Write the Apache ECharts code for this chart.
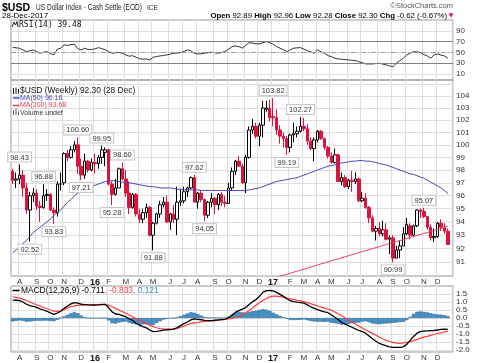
<!DOCTYPE html>
<html>
<head>
<meta charset="utf-8">
<script src="https://cdn.jsdelivr.net/npm/echarts@6.0.0/dist/echarts.min.js"></script>
<style>
html,body{margin:0;padding:0;background:#ffffff;}
#chart{width:480px;height:363px;}
</style>
</head>
<body>
<div id="chart"></div>
<script>
// ---- weekly categories (week start dates) ----
const weeks = [
'2015-07-20','2015-07-27','2015-08-03','2015-08-10','2015-08-17','2015-08-24','2015-08-31','2015-09-07','2015-09-14','2015-09-21',
'2015-09-28','2015-10-05','2015-10-12','2015-10-19','2015-10-26','2015-11-02','2015-11-09','2015-11-16','2015-11-23','2015-11-30',
'2015-12-07','2015-12-14','2015-12-21','2015-12-28','2016-01-04','2016-01-11','2016-01-18','2016-01-25','2016-02-01','2016-02-08',
'2016-02-15','2016-02-22','2016-02-29','2016-03-07','2016-03-14','2016-03-21','2016-03-28','2016-04-04','2016-04-11','2016-04-18',
'2016-04-25','2016-05-02','2016-05-09','2016-05-16','2016-05-23','2016-05-30','2016-06-06','2016-06-13','2016-06-20','2016-06-27',
'2016-07-04','2016-07-11','2016-07-18','2016-07-25','2016-08-01','2016-08-08','2016-08-15','2016-08-22','2016-08-29','2016-09-05',
'2016-09-12','2016-09-19','2016-09-26','2016-10-03','2016-10-10','2016-10-17','2016-10-24','2016-10-31','2016-11-07','2016-11-14',
'2016-11-21','2016-11-28','2016-12-05','2016-12-12','2016-12-19','2016-12-26','2017-01-02','2017-01-09','2017-01-16','2017-01-23',
'2017-01-30','2017-02-06','2017-02-13','2017-02-20','2017-02-27','2017-03-06','2017-03-13','2017-03-20','2017-03-27','2017-04-03',
'2017-04-10','2017-04-17','2017-04-24','2017-05-01','2017-05-08','2017-05-15','2017-05-22','2017-05-29','2017-06-05','2017-06-12',
'2017-06-19','2017-06-26','2017-07-03','2017-07-10','2017-07-17','2017-07-24','2017-07-31','2017-08-07','2017-08-14','2017-08-21',
'2017-08-28','2017-09-04','2017-09-11','2017-09-18','2017-09-25','2017-10-02','2017-10-09','2017-10-16','2017-10-23','2017-10-30',
'2017-11-06','2017-11-13','2017-11-20','2017-11-27','2017-12-04','2017-12-11','2017-12-18','2017-12-25'];

// ---- weekly OHLC ----
const open = [97.9,97.2,97.3,97.6,96.6,94.9,96.0,96.2,95.2,95.1, 96.0,96.1,94.9,94.7,96.9,97.0,99.3,99.0,99.6,100.0,
98.3,97.6,98.7,98.0,98.6,98.5,99.0,99.4,99.6,96.9, 96.1,96.6,98.1,97.3,96.2,95.1,96.1,94.6,94.2,94.7,
95.1,93.0,93.9,94.6,95.3,95.5,94.0,94.6,94.2,95.5, 95.6,96.3,96.6,97.4,95.5,96.2,95.7,94.5,95.5,95.8,
95.3,96.1,95.5,95.4,96.6,97.9,98.7,98.3,97.0,99.0, 101.2,101.5,100.7,101.6,102.9,103.0,102.3,102.2,101.2,100.7,
100.5,99.8,100.8,100.9,101.1,101.5,101.3,100.3,99.7,100.4, 101.1,100.5,99.8,99.1,98.6,99.2,97.1,97.4,96.7,97.2,
97.1,97.3,95.6,95.8,95.1,94.3,93.3,93.5,93.1,93.4, 92.7,92.8,91.3,91.9,92.2,93.1,93.7,93.0,93.7,94.9,
94.8,94.4,93.6,92.8,92.9,93.9,93.6,93.3];
const close = [97.2,97.3,97.6,96.6,94.9,96.0,96.2,95.2,95.1,96.0, 96.1,94.9,94.7,96.9,96.9,99.3,99.0,99.6,100.0,98.3,
97.6,98.7,98.0,98.6,98.5,99.0,99.6,99.6,96.9,96.1, 96.6,98.1,97.3,96.2,95.1,96.1,94.6,94.2,94.7,95.1,
93.0,93.9,94.6,95.3,95.5,94.0,94.6,94.2,95.5,95.6, 96.3,96.6,97.4,95.5,96.2,95.7,94.5,95.5,95.8,95.3,
96.1,95.5,95.4,96.6,97.9,98.7,98.3,97.0,99.0,101.2, 101.5,100.7,101.6,103.0,103.0,102.2,102.2,101.2,100.7,100.5,
99.8,100.8,100.9,101.1,101.5,101.3,100.3,99.7,100.4,101.1, 100.5,99.8,99.1,98.6,99.2,97.1,97.4,96.7,97.2,97.1,
97.3,95.6,95.8,95.1,94.3,93.3,93.5,93.1,93.4,92.7, 92.8,91.3,91.9,92.2,93.1,93.8,93.0,93.7,94.9,94.8,
94.4,93.6,92.8,92.9,93.9,93.6,93.3,92.30];
const low = [96.9,96.6,96.9,95.9,94.6,92.52,95.5,94.9,94.0,95.0, 95.6,94.8,93.83,94.4,96.4,96.8,98.7,98.9,99.4,97.7,
97.21,97.3,97.8,97.9,97.7,98.1,98.5,98.3,96.8,95.28, 96.0,96.6,97.2,95.9,94.6,95.0,94.4,93.9,93.9,94.3,
92.9,91.88,93.8,94.3,95.1,93.9,93.4,93.9,93.0,95.2, 95.4,95.9,96.5,95.5,95.0,95.5,94.05,94.3,95.1,94.6,
94.9,95.2,95.1,95.4,96.4,97.6,98.3,96.9,96.2,98.9, 100.9,100.5,99.9,100.6,102.7,101.9,101.5,100.8,100.1,99.8,
99.19,99.4,100.2,100.6,101.0,101.1,100.0,99.6,98.7,100.2, 100.4,99.6,98.9,98.5,98.5,97.1,96.8,96.6,96.5,96.3,
96.9,95.5,95.5,95.0,93.9,93.2,92.6,92.9,92.9,92.6, 91.6,90.99,91.3,91.3,92.2,93.0,92.7,92.9,93.6,94.3,
94.3,93.4,92.6,92.5,92.8,93.3,93.1,92.28];
const high = [98.1,97.8,98.43,98.0,97.0,96.3,96.6,96.5,95.6,96.88, 96.5,96.2,95.1,97.1,97.8,99.4,99.6,99.9,100.3,100.60,
98.9,99.3,98.8,98.9,99.3,99.2,99.95,99.8,99.7,97.1, 97.3,98.2,98.60,98.0,97.1,96.2,96.2,95.0,95.0,95.4,
95.2,94.0,94.7,95.6,95.9,96.0,94.7,95.3,96.7,96.5, 96.7,96.7,97.5,97.62,96.3,96.4,95.8,95.6,96.2,95.9,
96.2,96.3,96.0,97.0,98.2,98.8,99.1,98.5,99.2,101.5, 102.1,101.8,101.8,103.6,103.6,103.7,103.82,102.9,101.6,101.0,
100.7,100.9,101.8,101.5,102.27,102.2,101.7,100.6,100.6,101.2, 101.2,100.6,99.9,99.4,99.7,99.3,97.8,97.6,97.3,97.9,
97.8,97.4,96.3,96.2,95.2,94.5,93.7,94.0,94.1,93.9, 93.0,93.0,92.2,92.6,93.6,94.3,93.9,93.8,94.95,95.0,
95.07,94.4,93.8,93.5,94.0,94.2,93.9,93.5];

// ---- moving averages ----
const ma50 = [91.7,91.9,92.1,92.4,92.6,92.9,93.2,93.4,93.6,93.8, 94.0,94.2,94.5,94.7,94.9,95.2,95.5,95.7,96.0,96.2,
96.3,96.5,96.6,96.7,96.8,96.9,97.0,97.1,97.15,97.15, 97.15,97.1,97.05,97.0,97.0,96.95,96.9,96.85,96.8,96.75,
96.7,96.7,96.65,96.6,96.6,96.6,96.6,96.55,96.5,96.5, 96.45,96.45,96.45,96.45,96.45,96.4,96.4,96.4,96.4,96.4,
96.4,96.4,96.4,96.4,96.4,96.4,96.4,96.4,96.4,96.45, 96.5,96.55,96.6,96.7,96.8,96.9,97.0,97.1,97.15,97.2,
97.25,97.3,97.35,97.4,97.5,97.6,97.7,97.8,97.9,98.0, 98.1,98.2,98.3,98.35,98.4,98.5,98.55,98.6,98.65,98.7,
98.7,98.75,98.75,98.7,98.7,98.65,98.6,98.5,98.45,98.4, 98.3,98.2,98.1,98.0,97.9,97.8,97.7,97.65,97.55,97.45,
97.35,97.2,97.05,96.9,96.75,96.6,96.4,96.16];
const ma200 = [84.10,84.18,84.25,84.33,84.40,84.48,84.55,84.63,84.70,84.78, 84.85,84.93,85.00,85.08,85.16,85.23,85.31,85.39,85.46,85.54,
85.62,85.69,85.77,85.85,85.92,86.00,86.08,86.15,86.23,86.30, 86.38,86.45,86.53,86.60,86.68,86.75,86.83,86.90,86.98,87.05,
87.13,87.20,87.28,87.35,87.43,87.50,87.58,87.65,87.73,87.80, 87.88,87.95,88.03,88.10,88.18,88.25,88.33,88.40,88.48,88.55,
88.63,88.70,88.78,88.85,88.93,89.00,89.08,89.15,89.23,89.30, 89.38,89.45,89.53,89.60,89.68,89.75,89.83,89.90,89.98,90.05,
90.13,90.20,90.28,90.35,90.43,90.50,90.58,90.65,90.73,90.80, 90.88,90.95,91.03,91.10,91.18,91.25,91.33,91.40,91.48,91.55,
91.63,91.70,91.78,91.85,91.93,92.00,92.08,92.15,92.23,92.30, 92.38,92.45,92.53,92.60,92.68,92.75,92.83,92.90,92.98,93.05,
93.13,93.20,93.28,93.35,93.43,93.50,93.58,93.68];

// ---- RSI(14) ----
const rsi = [59.6,58.5,57.8,54.6,51.5,53,54.6,51.5,48.5,50.5, 51.5,48,45.4,55.9,58,63.9,63,64.5,65.2,57,
54.6,57.8,55.5,55.5,56.5,58.9,57,55,51.5,48.5, 49.6,50,48.5,45.4,43,44,41.1,38.5,37.4,38,
36.1,41.1,42.5,43.5,44.5,45.4,47,48.5,49,49.6, 52,54.6,53,48.5,47.2,47.5,48.5,49.5,50.4,49.5,
48.5,50,51.5,56,60.8,62,60.8,58,63,68.2, 67,66,65.7,68,70,68,65.2,61,57.8,55,
51.5,55,57.8,58.5,58.9,56,53.4,51,48.5,54.6, 51,48.5,44,42.3,39.3,38,37.4,36.8,36.1,35.5,
35,33,31,28.7,28.7,28.7,29.5,30,28.5,26.9, 25,23.7,30,35,39.3,45.4,48.5,51.5,51,50,
46,43.5,39.3,45.4,47.2,45,43.5,39.48];

// ---- MACD(12,26,9) ----
const macd = [1.12,1.11,1.09,1.0,0.86,0.78,0.72,0.66,0.57,0.5, 0.42,0.32,0.23,0.3,0.42,0.6,0.75,0.88,0.96,0.93,
0.86,0.84,0.82,0.81,0.81,0.82,0.84,0.85,0.65,0.38, 0.25,0.22,0.15,0.08,-0.05,-0.15,-0.33,-0.45,-0.54,-0.62,
-0.75,-0.85,-0.83,-0.8,-0.76,-0.74,-0.72,-0.69,-0.6,-0.48, -0.35,-0.25,-0.12,-0.06,-0.08,-0.11,-0.15,-0.17,-0.16,-0.14,
-0.12,-0.1,-0.08,0.02,0.18,0.35,0.46,0.55,0.65,0.85, 1.02,1.15,1.35,1.6,1.71,1.72,1.7,1.6,1.48,1.35,
1.2,1.08,1.03,0.99,0.96,0.93,0.82,0.7,0.6,0.52, 0.45,0.38,0.33,0.2,0.05,-0.1,-0.28,-0.38,-0.48,-0.58,
-0.68,-0.78,-0.85,-0.95,-1.12,-1.3,-1.45,-1.58,-1.66,-1.74, -1.8,-1.83,-1.84,-1.84,-1.8,-1.65,-1.4,-1.15,-0.95,-0.85,
-0.82,-0.8,-0.79,-0.78,-0.75,-0.71,-0.7,-0.711];
const signal = [1.33,1.29,1.24,1.18,1.09,1.0,0.91,0.83,0.75,0.66, 0.58,0.5,0.43,0.41,0.45,0.53,0.63,0.72,0.76,0.79,
0.81,0.82,0.83,0.83,0.84,0.84,0.85,0.85,0.8,0.7, 0.6,0.5,0.4,0.3,0.19,0.08,-0.03,-0.14,-0.25,-0.36,
-0.45,-0.54,-0.61,-0.66,-0.68,-0.69,-0.69,-0.68,-0.65,-0.58, -0.5,-0.42,-0.35,-0.31,-0.28,-0.24,-0.21,-0.19,-0.18,-0.17,
-0.14,-0.11,-0.08,-0.05,-0.02,0.03,0.08,0.2,0.33,0.47, 0.63,0.8,0.95,1.1,1.22,1.32,1.37,1.37,1.34,1.3,
1.25,1.2,1.16,1.11,1.07,1.02,0.96,0.89,0.82,0.75, 0.68,0.62,0.56,0.49,0.38,0.26,0.14,0.02,-0.12,-0.25,
-0.38,-0.5,-0.62,-0.75,-0.85,-0.96,-1.08,-1.19,-1.3,-1.4, -1.47,-1.52,-1.56,-1.58,-1.56,-1.52,-1.48,-1.41,-1.34,-1.26,
-1.2,-1.15,-1.09,-1.03,-0.97,-0.92,-0.87,-0.833];
const hist = [-0.21,-0.18,-0.15,-0.18,-0.23,-0.22,-0.19,-0.17,-0.18,-0.16, -0.16,-0.18,-0.2,-0.11,0.0,0.1,0.2,0.3,0.36,0.3,
0.15,0.05,-0.01,-0.02,-0.03,-0.02,-0.01,0.0,-0.15,-0.32, -0.35,-0.28,-0.25,-0.22,-0.3,-0.36,-0.4,-0.42,-0.4,-0.38,
-0.42,-0.44,-0.32,-0.2,-0.1,-0.05,-0.03,-0.01,0.05,0.12, 0.2,0.28,0.36,0.33,0.25,0.15,0.06,0.02,0.02,0.03,
0.02,0.01,0.0,0.07,0.2,0.32,0.38,0.35,0.32,0.38, 0.42,0.45,0.5,0.55,0.52,0.45,0.33,0.23,0.14,0.05,
-0.05,-0.12,-0.13,-0.12,-0.11,-0.09,-0.14,-0.19,-0.22,-0.23, -0.23,-0.24,-0.23,-0.29,-0.33,-0.36,-0.42,-0.4,-0.36,-0.33,
-0.3,-0.28,-0.23,-0.2,-0.27,-0.34,-0.37,-0.39,-0.36,-0.34, -0.33,-0.31,-0.28,-0.26,-0.24,-0.13,0.08,0.26,0.39,0.41,
0.38,0.35,0.3,0.25,0.22,0.21,0.17,0.121];

// ---- annotated peaks / troughs (week indexes) ----
const peakIdx = [2,9,19,26,32,53,76,84,120];
const troughIdx = [5,12,20,29,41,56,80,111];

// ---- tick labels ----
const priceTicks = [91,92,93,94,95,96,97,98,99,100,101,102,103,104];
const priceGrid = [91,92,93,94,95,96,97,98,99,100,101,102,103,104,105];
const rsiTicks = [10,30,50,70,90];
const macdTicks = [-2,-1.5,-1,-0.5,0,0.5,1,1.5];
const monthLetters = ['J','F','M','A','M','J','J','A','S','O','N','D'];

// ---- header quote (daily) ----
const quote = {open:'92.89', high:'92.96', low:'92.28', close:'92.30', chg:'-0.62', pct:'-0.67%'};

const N = weeks.length;
[open,close,low,high,ma50,ma200,rsi,macd,signal,hist].forEach((a,k)=>{ if(a.length!==N) throw new Error('len mismatch '+k+' '+a.length); });

const cats = weeks.concat(['']);
function monthStart(i){ if(i<=0||i>=N) return false; return weeks[i].slice(5,7)!==weeks[i-1].slice(5,7); }
function monthLabel(v){ if(!v) return ''; const m=+v.slice(5,7); return m===1 ? '{b|'+v.slice(2,4)+'}' : monthLetters[m-1]; }

const RED = '#dc143c';
const BLUE = '#4848b4';
const PINK = '#e8405a';
const FONT = 'Liberation Sans';
const GRID = '#dedede';
const gridBase = {left:11, right:27, show:true, borderColor:'#999999', borderWidth:1, backgroundColor:'transparent', containLabel:false, outerBoundsMode:'none'};
const grids = [
  Object.assign({top:20, height:60}, gridBase),
  Object.assign({top:80, height:196}, gridBase),
  Object.assign({top:286, height:66}, gridBase)
];

function xAx(gi, showLabels){
  return {type:'category', gridIndex:gi, data:cats, boundaryGap:true,
    axisLine:{show:false}, axisTick:{show:false},
    axisLabel:{show:showLabels, interval:(i)=>monthStart(i), formatter:monthLabel, fontSize:8, fontFamily:FONT, color:'#333', margin:2,
      rich:{b:{fontSize:9, fontWeight:'bold', fontFamily:FONT, color:'#111'}}},
    splitLine:{show:true, interval:(i)=>monthStart(i), lineStyle:{color:GRID, width:1}}
  };
}
function yAx(gi, type, min, max, ticks, fmt, gridTicks){
  const a = {type:type, gridIndex:gi, position:'right', min:min, max:max, scale:true,
    axisLine:{show:false}, axisTick:{show:false, customValues:gridTicks||ticks},
    axisLabel:{customValues:ticks, fontSize:8, fontFamily:FONT, color:'#333', margin:3, formatter:fmt},
    splitLine:{show:true, lineStyle:{color:GRID, width:1}}};
  if(type==='log') a.logBase = 10;
  return a;
}

function endBox(val, txt, col, off){
  return {yAxis:val, lineStyle:{opacity:0, width:0},
    label:{show:true, position:'end', distance:2, formatter:txt, fontSize:8, fontFamily:FONT, color:'#111',
      backgroundColor:'#fff', borderColor:col, borderWidth:1, padding:[1,2,0,2], offset:[0, off||0]}};
}

const ohlc = weeks.map((w,i)=>[open[i], close[i], low[i], high[i]]);
const annot = peakIdx.map(i=>({coord:[weeks[i], high[i]], value:high[i].toFixed(2), label:{position:'top', distance:3}}))
  .concat(troughIdx.map(i=>({coord:[weeks[i], low[i]], value:low[i].toFixed(2), label:{position:'bottom', distance:3}})));

const last = N-1;
const T = (x,y,text,font,fill,align,extra,elExtra)=>Object.assign({type:'text', x:x, y:y, silent:true, z:50,
  style:Object.assign({text:text, font:font, fill:fill||'#000', align:align||'left', textAlign:align||'left', verticalAlign:'middle', textVerticalAlign:'middle'}, extra||{})}, elExtra||{});
const seg = (x1,y1,x2,y2,col,w)=>({type:'line', silent:true, z:50, shape:{x1:x1,y1:y1,x2:x2,y2:y2}, style:{stroke:col, lineWidth:w||1}});

const option = {
  animation:false,
  backgroundColor:'#ffffff',
  grid: grids,
  xAxis:[xAx(0,false), xAx(1,true), xAx(2,true)],
  yAxis:[
    yAx(0,'value',-1,110,rsiTicks,(v)=>String(v)),
    yAx(1,'log',90.0,105.35,priceTicks,(v)=>String(Math.round(v)),priceGrid),
    yAx(2,'value',-2.125,2.0,macdTicks,(v)=>v.toFixed(1))
  ],
  series:[
    {type:'line', name:'RSI', xAxisIndex:0, yAxisIndex:0, data:rsi, symbol:'none', lineStyle:{color:'#333', width:1}, z:4,
      markLine:{silent:true, symbol:['none','none'], animation:false, label:{show:false},
        data:[
          {yAxis:70, lineStyle:{color:'#808080', width:1, type:'solid'}},
          {yAxis:30, lineStyle:{color:'#808080', width:1, type:'solid'}},
          {yAxis:50, lineStyle:{color:'#a0a0a0', width:1, type:[5,2,1,2]}},
          endBox(rsi[last], rsi[last].toFixed(2), '#333')
        ]}},
    {type:'candlestick', name:'USD', xAxisIndex:1, yAxisIndex:1, data:ohlc, barWidth:3, z:3,
      itemStyle:{color:'#ffffff', color0:RED, borderColor:'#000000', borderColor0:RED, borderWidth:1},
      markPoint:{silent:true, symbol:'circle', symbolSize:0, animation:false,
        label:{show:true, formatter:(p)=>p.value, fontSize:7.5, fontFamily:FONT, color:'#333', backgroundColor:'#fff', borderColor:'#c4c4c4', borderWidth:1, padding:[1,2,0,2]},
        data:annot},
      markLine:{silent:true, symbol:['none','none'], animation:false, data:[endBox(close[last], close[last].toFixed(2), '#000')]}},
    {type:'line', name:'MA50', xAxisIndex:1, yAxisIndex:1, data:ma50, symbol:'none', lineStyle:{color:BLUE, width:1}, z:4,
      markLine:{silent:true, symbol:['none','none'], animation:false, data:[endBox(ma50[last], ma50[last].toFixed(2), BLUE)]}},
    {type:'line', name:'MA200', xAxisIndex:1, yAxisIndex:1, data:ma200, symbol:'none', lineStyle:{color:PINK, width:1}, z:4,
      markLine:{silent:true, symbol:['none','none'], animation:false, data:[endBox(ma200[last], ma200[last].toFixed(2), PINK)]}},
    {type:'bar', name:'Hist', xAxisIndex:2, yAxisIndex:2, data:hist, barWidth:'100%', z:2,
      itemStyle:{color:'#4494cf', borderColor:'#245f8c', borderWidth:0.5},
      markLine:{silent:true, symbol:['none','none'], animation:false, data:[endBox(hist[last], hist[last].toFixed(3), '#4494cf')]}},
    {type:'line', name:'Signal', xAxisIndex:2, yAxisIndex:2, data:signal, symbol:'none', lineStyle:{color:'#ff3b3b', width:1.2}, z:3,
      markLine:{silent:true, symbol:['none','none'], animation:false, data:[endBox(signal[last], signal[last].toFixed(3), '#ff3b3b', 4)]}},
    {type:'line', name:'MACD', xAxisIndex:2, yAxisIndex:2, data:macd, symbol:'none', lineStyle:{color:'#000', width:1.3}, z:4,
      markLine:{silent:true, symbol:['none','none'], animation:false, data:[endBox(macd[last], macd[last].toFixed(3), '#000')]}}
  ],
  graphic:[
    T(2,8,'$USD','bold 10.5px "Liberation Sans"','#000'),
    T(36,8,'US Dollar Index - Cash Settle (EOD)','8.2px "Liberation Sans"','#222','left',null,{scaleX:0.8}),
    T(147,8.5,'ICE','6.5px "Liberation Sans"','#222'),
    T(2,15.5,'28-Dec-2017','8px "Liberation Sans"','#000'),
    T(453,5.5,'©StockCharts.com','7.5px "Liberation Sans"','#555','right'),
    T(447,15.5,'{b|Open} '+quote.open+' {b|High} '+quote.high+' {b|Low} '+quote.low+' {b|Close} '+quote.close+' {b|Chg} '+quote.chg+' ('+quote.pct+')',
      '7.8px "Liberation Sans"','#000','right', {rich:{b:{font:'bold 7.8px "Liberation Sans"', fill:'#000'}}}),
    T(451,15.5,'▼','6px "DejaVu Sans"',RED,'center'),
    // RSI legend
    {type:'polyline', silent:true, z:50, shape:{points:[[12,27],[14,22],[15.5,25],[17,21.5],[18,27]]}, style:{stroke:'#222', lineWidth:1, fill:'none'}},
    T(19,24.5,'RSI(14) '+rsi[last].toFixed(2),'8px "DejaVu Sans Mono"','#111'),
    // price legend
    seg(13.5,88,13.5,94,'#222',1), seg(16,87.5,16,94,'#222',1), seg(18.5,89,18.5,93.5,'#222',1),
    T(20,91,'$USD (Weekly) '+close[last].toFixed(2)+' (28 Dec)','8.4px "Liberation Sans"','#111'),
    seg(13,98,19.5,98,BLUE,1.5),
    T(20,98,'MA(50) '+ma50[last].toFixed(2),'7px "Liberation Sans"',BLUE),
    seg(13,105.5,19.5,105.5,PINK,1.5),
    T(20,105.5,'MA(200) '+ma200[last].toFixed(2),'7px "Liberation Sans"',PINK),
    seg(13.5,110.5,13.5,115,'#555',1), seg(16,109,16,115,'#555',1), seg(18.5,111.5,18.5,115,'#555',1),
    T(20,113,'Volume undef','7px "Liberation Sans"','#333'),
    // MACD legend
    seg(12.5,290.5,19.5,290.5,'#000',1.5),
    T(21,290.5,'{k|MACD(12,26,9) '+macd[last].toFixed(3)+'}{r|, '+signal[last].toFixed(3)+'}{c|, '+hist[last].toFixed(3)+'}','8.4px "Liberation Sans"','#000','left',
      {rich:{k:{font:'8.4px "Liberation Sans"', fill:'#000'}, r:{font:'8.4px "Liberation Sans"', fill:'#ff3b3b'}, c:{font:'8.4px "Liberation Sans"', fill:'#3a8cc8'}}})
  ]
};

const chart = echarts.init(document.getElementById('chart'), null, {renderer:'canvas', width:480, height:363});
chart.setOption(option);
</script>
</body>
</html>
